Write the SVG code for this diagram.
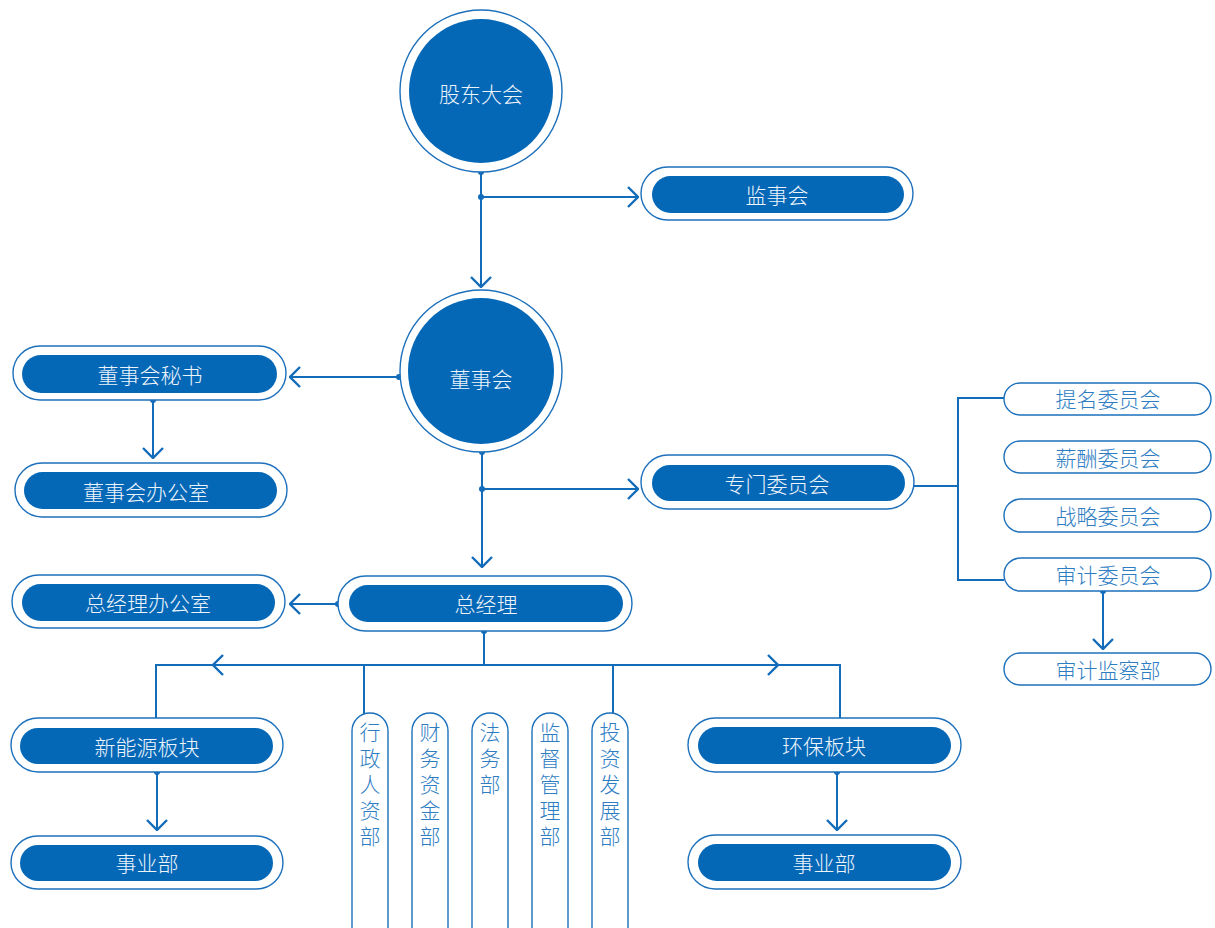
<svg xmlns="http://www.w3.org/2000/svg" width="1215" height="928" viewBox="0 0 1215 928">
<defs>
<style>
.bg{fill:#ffffff}
.ring{fill:#ffffff;stroke:#1d70bb;stroke-width:1.4}
.fill{fill:#0568b7}
.ol{fill:#ffffff;stroke:#1d70bb;stroke-width:1.4}
.wt{font-family:"Noto Sans CJK SC","Noto Sans",sans-serif;font-size:21px;font-weight:300;fill:#eef4fb;text-anchor:middle;dominant-baseline:central}
.bt{font-family:"Noto Sans CJK SC","Noto Sans",sans-serif;font-size:21px;font-weight:300;fill:#2e7dc3;text-anchor:middle;dominant-baseline:central}
.vt{font-family:"Noto Sans CJK SC","Noto Sans",sans-serif;font-size:21px;font-weight:300;fill:#2e7dc3;writing-mode:vertical-rl;text-anchor:start;letter-spacing:5px}
.ln{fill:none;stroke:#126cb9;stroke-width:2}
.dot{fill:#126cb9}
</style>
<marker id="chev" viewBox="0 0 12 22" refX="11" refY="11" markerWidth="12" markerHeight="22" orient="auto" markerUnits="userSpaceOnUse">
<path d="M1,1 L11,11 L1,21" fill="none" stroke="#126cb9" stroke-width="2.4"/>
</marker>
</defs>
<rect class="bg" x="0" y="0" width="1215" height="928"/>

<g id="connectors">
<path class="ln" d="M481,172 L481,287" marker-end="url(#chev)"/>
<path class="ln" d="M481,197 L638,197" marker-end="url(#chev)"/>
<path class="ln" d="M399,377 L290,377" marker-end="url(#chev)"/>
<path class="ln" d="M153,400 L153,458" marker-end="url(#chev)"/>
<path class="ln" d="M482,452 L482,567" marker-end="url(#chev)"/>
<path class="ln" d="M482,489 L638,489" marker-end="url(#chev)"/>
<path class="ln" d="M914,486 L958,486"/>
<path class="ln" d="M1004,398 L958,398 L958,580 L1004,580"/>
<path class="ln" d="M1103,591 L1103,649" marker-end="url(#chev)"/>
<path class="ln" d="M338,604 L290,604" marker-end="url(#chev)"/>
<path class="ln" d="M484,631 L484,665"/>
<path class="ln" d="M484,665 L213,665" marker-end="url(#chev)"/>
<path class="ln" d="M214,665 L156,665 L156,718"/>
<path class="ln" d="M484,665 L778,665" marker-end="url(#chev)"/>
<path class="ln" d="M777,665 L840,665 L840,718"/>
<path class="ln" d="M364,665 L364,714"/>
<path class="ln" d="M613,665 L613,714"/>
<path class="ln" d="M157,772 L157,830" marker-end="url(#chev)"/>
<path class="ln" d="M837,772 L837,830" marker-end="url(#chev)"/>
<circle class="dot" cx="481" cy="172" r="3"/>
<circle class="dot" cx="481" cy="197" r="3"/>
<circle class="dot" cx="399" cy="377" r="3"/>
<circle class="dot" cx="153" cy="400" r="3"/>
<circle class="dot" cx="482" cy="452" r="3"/>
<circle class="dot" cx="482" cy="489" r="3"/>
<circle class="dot" cx="1103" cy="591" r="3"/>
<circle class="dot" cx="338" cy="604" r="3"/>
<circle class="dot" cx="484" cy="631" r="3"/>
<circle class="dot" cx="157" cy="772" r="3"/>
<circle class="dot" cx="837" cy="772" r="3"/>
</g>

<g id="n-gudong">
<circle class="ring" cx="481" cy="91" r="81"/>
<circle class="fill" cx="481" cy="91" r="72"/>
<text class="wt" x="481" y="93">股东大会</text>
</g>

<g id="n-jianshi">
<rect class="ol" x="641" y="167" width="272" height="53" rx="26.5"/>
<rect class="fill" x="652" y="176" width="252" height="37" rx="18.5"/>
<text class="wt" x="777" y="194">监事会</text>
</g>

<g id="n-dongshi">
<circle class="ring" cx="481" cy="371" r="81"/>
<circle class="fill" cx="481" cy="371" r="73"/>
<text class="wt" x="481" y="378">董事会</text>
</g>

<g id="n-mishu">
<rect class="ol" x="13" y="346" width="273" height="54" rx="27"/>
<rect class="fill" x="22" y="355" width="255" height="38" rx="19"/>
<text class="wt" x="150" y="374">董事会秘书</text>
</g>

<g id="n-dsban">
<rect class="ol" x="15" y="463" width="272" height="54" rx="27"/>
<rect class="fill" x="24" y="472" width="253" height="37" rx="18.5"/>
<text class="wt" x="146" y="491">董事会办公室</text>
</g>

<g id="n-zhuanmen">
<rect class="ol" x="641" y="455" width="273" height="54" rx="27"/>
<rect class="fill" x="652" y="465" width="253" height="36" rx="18"/>
<text class="wt" x="777" y="483">专门委员会</text>
</g>

<g id="n-timing">
<rect class="ol" x="1004" y="383" width="207" height="32" rx="16"/>
<text class="bt" x="1108" y="398">提名委员会</text>
</g>
<g id="n-xinchou">
<rect class="ol" x="1004" y="441" width="207" height="32" rx="16"/>
<text class="bt" x="1108" y="457">薪酬委员会</text>
</g>
<g id="n-zhanlue">
<rect class="ol" x="1004" y="499" width="207" height="33" rx="16.5"/>
<text class="bt" x="1108" y="515">战略委员会</text>
</g>
<g id="n-shenji">
<rect class="ol" x="1004" y="558" width="207" height="33" rx="16.5"/>
<text class="bt" x="1108" y="574">审计委员会</text>
</g>
<g id="n-jiancha">
<rect class="ol" x="1004" y="653" width="207" height="32" rx="16"/>
<text class="bt" x="1108" y="669">审计监察部</text>
</g>

<g id="n-zongjingli">
<rect class="ol" x="338" y="576" width="294" height="55" rx="27.5"/>
<rect class="fill" x="349" y="585" width="274" height="37" rx="18.5"/>
<text class="wt" x="486" y="603">总经理</text>
</g>

<g id="n-zjban">
<rect class="ol" x="12" y="575" width="273" height="53" rx="26.5"/>
<rect class="fill" x="22" y="584" width="253" height="37" rx="18.5"/>
<text class="wt" x="148" y="602">总经理办公室</text>
</g>

<g id="n-xinneng">
<rect class="ol" x="11" y="718" width="272" height="54" rx="27"/>
<rect class="fill" x="20" y="728" width="253" height="36" rx="18"/>
<text class="wt" x="147" y="746">新能源板块</text>
</g>
<g id="n-shiye1">
<rect class="ol" x="11" y="836" width="272" height="53" rx="26.5"/>
<rect class="fill" x="20" y="845" width="253" height="36" rx="18"/>
<text class="wt" x="147" y="862">事业部</text>
</g>

<g id="n-huanbao">
<rect class="ol" x="688" y="718" width="273" height="54" rx="27"/>
<rect class="fill" x="698" y="727" width="253" height="37" rx="18.5"/>
<text class="wt" x="824" y="745">环保板块</text>
</g>
<g id="n-shiye2">
<rect class="ol" x="688" y="835" width="273" height="54" rx="27"/>
<rect class="fill" x="698" y="844" width="253" height="37" rx="18.5"/>
<text class="wt" x="824" y="862">事业部</text>
</g>

<g id="n-xingzheng">
<rect class="ol" x="352" y="713" width="36" height="235" rx="18"/>
<text class="vt" x="370" y="722">行政人资部</text>
</g>
<g id="n-caiwu">
<rect class="ol" x="412" y="713" width="36" height="235" rx="18"/>
<text class="vt" x="430" y="722">财务资金部</text>
</g>
<g id="n-fawu">
<rect class="ol" x="472" y="713" width="36" height="235" rx="18"/>
<text class="vt" x="490" y="722">法务部</text>
</g>
<g id="n-jiandu">
<rect class="ol" x="532" y="713" width="36" height="235" rx="18"/>
<text class="vt" x="550" y="722">监督管理部</text>
</g>
<g id="n-touzi">
<rect class="ol" x="592" y="713" width="36" height="235" rx="18"/>
<text class="vt" x="610" y="722">投资发展部</text>
</g>
</svg>
